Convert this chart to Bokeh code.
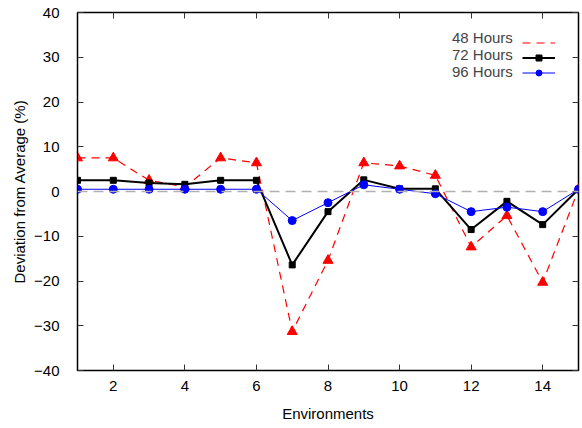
from bokeh.plotting import figure
from bokeh.models import LinearAxis, Span, Legend, LegendItem, FixedTicker, ColumnDataSource, CustomJSTickFormatter
from bokeh.embed import file_html
from bokeh.resources import INLINE

env = list(range(1, 16))
h48 = [7.5, 7.5, 2.5, 1.0, 7.5, 6.4, -31.3, -15.4, 6.4, 5.7, 3.6, -12.4, -5.4, -20.3, 0.5]
h72 = [2.5, 2.5, 1.9, 1.6, 2.5, 2.5, -16.4, -4.5, 2.6, 0.6, 0.6, -8.5, -2.2, -7.4, 0.5]
h96 = [0.5, 0.5, 0.5, 0.5, 0.5, 0.5, -6.5, -2.5, 1.5, 0.5, -0.5, -4.5, -3.5, -4.5, 0.5]
series_names = ["48 Hours", "72 Hours", "96 Hours"]
x_ticks = [2, 4, 6, 8, 10, 12, 14]
y_ticks = [-40, -30, -20, -10, 0, 10, 20, 30, 40]

FONT = "Liberation Sans"
FS = "15px"

p = figure(width=580, height=424, x_range=(1, 15), y_range=(-40, 40),
           output_backend="svg", toolbar_location=None,
           min_border_left=77, min_border_right=2, min_border_top=12, min_border_bottom=54)
p.grid.visible = False
p.outline_line_color = "black"
p.outline_line_width = 1.5

for ax in [p.xaxis[0], p.yaxis[0]]:
    ax.major_tick_in = 6
    ax.major_tick_out = 0
    ax.minor_tick_line_color = None
    ax.axis_line_color = "black"
    ax.major_tick_line_color = "#333333"
    ax.major_label_text_font = FONT
    ax.major_label_text_font_size = FS
    ax.major_label_text_color = "black"
    ax.axis_label_text_font = FONT
    ax.axis_label_text_font_size = FS
    ax.axis_label_text_font_style = "normal"
    ax.axis_label_text_color = "black"

p.xaxis[0].ticker = FixedTicker(ticks=x_ticks)
p.yaxis[0].ticker = FixedTicker(ticks=y_ticks)
p.xaxis[0].axis_label = "Environments"
p.yaxis[0].axis_label = "Deviation from Average (%)"
p.xaxis[0].major_label_standoff = 10
p.xaxis[0].axis_label_standoff = 11
p.yaxis[0].major_label_standoff = 18
p.yaxis[0].axis_label_standoff = 3

top = LinearAxis(ticker=FixedTicker(ticks=x_ticks), major_tick_in=6, major_tick_out=0,
                 minor_tick_line_color=None, formatter=CustomJSTickFormatter(code="return ''"),
                 major_label_standoff=0, axis_line_color=None, major_tick_line_color="#333333")
right = LinearAxis(ticker=FixedTicker(ticks=y_ticks), major_tick_in=6, major_tick_out=0,
                   minor_tick_line_color=None, formatter=CustomJSTickFormatter(code="return ''"),
                   major_label_standoff=0, axis_line_color=None, major_tick_line_color="#333333")
p.add_layout(top, "above")
p.add_layout(right, "right")

p.add_layout(Span(location=0, dimension="width", line_color="#b0b0b0",
                  line_dash="10 6", line_width=1.5))

src = ColumnDataSource(dict(x=env, h48=h48, h72=h72, h96=h96))

l48 = p.line("x", "h48", source=src, line_color="red", line_dash="8 6", line_width=1.2)
m48 = p.scatter("x", "h48", source=src, marker="triangle", size=10, color="red")
l72 = p.line("x", "h72", source=src, line_color="black", line_width=2)
m72 = p.scatter("x", "h72", source=src, marker="square", size=6, color="black")
l96 = p.line("x", "h96", source=src, line_color="blue", line_width=1)
m96 = p.scatter("x", "h96", source=src, marker="circle", size=8, color="blue")

# invisible renderer used only for the text-only legend column
dummy = p.line(x=[], y=[], line_alpha=0)

common = dict(border_line_color=None, background_fill_alpha=0,
              label_text_font=FONT, label_text_font_size=FS,
              spacing=-3, padding=0, margin=0, label_height=15, glyph_height=15)

legend_text = Legend(items=[LegendItem(label=n, renderers=[dummy]) for n in series_names],
                     location=(374, 290), glyph_width=1, label_standoff=0, **common)
legend_glyph = Legend(items=[LegendItem(label=" ", renderers=[l48]),
                             LegendItem(label=" ", renderers=[l72, m72]),
                             LegendItem(label=" ", renderers=[l96, m96])],
                      location=(445, 290), glyph_width=33, label_standoff=0, **common)
p.add_layout(legend_text)
p.add_layout(legend_glyph)

open("out.html", "w").write(file_html(p, INLINE))
